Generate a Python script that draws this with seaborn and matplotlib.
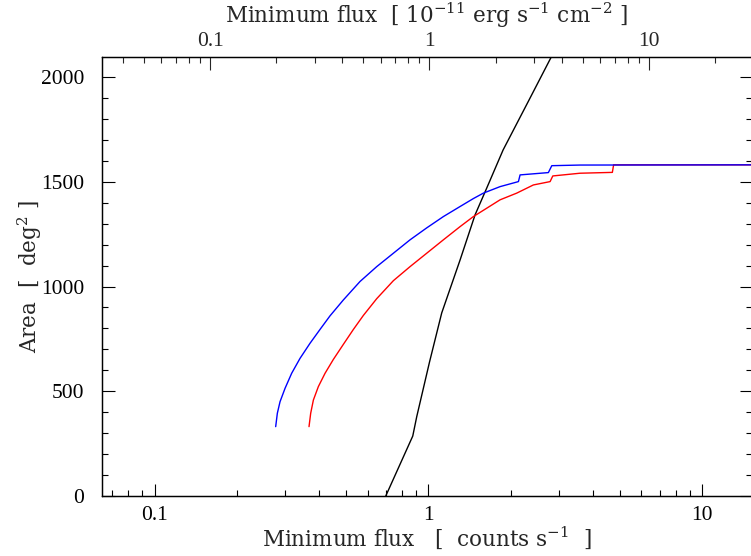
import matplotlib
matplotlib.use("Agg")
import matplotlib.pyplot as plt
import seaborn as sns
import numpy as np
import pandas as pd
from matplotlib.ticker import FixedLocator, FuncFormatter, MultipleLocator, LogLocator, NullFormatter

# ---- data ----
blue_x = [0.2769, 0.2808, 0.2872, 0.2996, 0.3168, 0.3398, 0.3696, 0.4020, 0.4373, 0.4893, 0.5628,
          0.6477, 0.7452, 0.8573, 0.9863, 1.1347, 1.3056, 1.4604, 1.5888, 1.828, 2.133,
          2.163, 2.744, 2.824, 3.58, 15.5]
blue_y = [331, 395, 450, 514, 586, 657, 729, 795, 860, 936, 1024,
          1095, 1159, 1223, 1280, 1334, 1382, 1420, 1446, 1477, 1501,
          1533, 1544, 1577, 1580, 1581]
red_x = [0.3665, 0.3717, 0.3802, 0.3964, 0.4195, 0.4498, 0.4893, 0.5322, 0.5789, 0.6477, 0.7452,
         0.8573, 0.9863, 1.1347, 1.3056, 1.4604, 1.634, 1.828, 2.103, 2.419, 2.784,
         2.848, 3.58, 4.70, 4.75, 15.5]
red_y = [331, 395, 458, 522, 586, 652, 724, 795, 862, 942, 1028,
         1095, 1159, 1223, 1286, 1334, 1374, 1414, 1446, 1485, 1501,
         1528, 1541, 1545, 1581, 1581]
black_x = [0.699, 0.877, 0.907, 1.010, 1.119, 1.306, 1.481, 1.635, 1.875, 2.333, 2.90]
black_y = [0, 286, 379, 640, 874, 1127, 1342, 1471, 1652, 1891, 2130]

bottom_ticks = [0.1, 1, 10]
top_ticks = [0.1, 1, 10]

sns.set_theme(style="ticks")
plt.rcParams["font.family"] = ["Liberation Serif", "DejaVu Serif"]
plt.rcParams["mathtext.default"] = "regular"

fig = plt.figure(figsize=(7.51, 5.56), dpi=100)
ax = fig.add_axes([0.1352, 0.108, 0.866, 0.7895])

df_b = pd.DataFrame({"x": black_x, "y": black_y})
df_r = pd.DataFrame({"x": red_x, "y": red_y})
df_u = pd.DataFrame({"x": blue_x, "y": blue_y})
sns.lineplot(data=df_b, x="x", y="y", ax=ax, color="black", lw=1.0, sort=False, estimator=None)
sns.lineplot(data=df_r, x="x", y="y", ax=ax, color="#ff0000", lw=1.0, sort=False, estimator=None)
sns.lineplot(data=df_u, x="x", y="y", ax=ax, color="#0000ff", lw=1.0, sort=False, estimator=None)

ax.set_xscale("log")
ax.set_xlim(0.0640, 15.2)
ax.set_ylim(0, 2096)

fs = 15.5
lab_font = dict(family=["DejaVu Serif"], size=15.5)
ax.xaxis.set_major_locator(FixedLocator(bottom_ticks))
ax.xaxis.set_major_formatter(FuncFormatter(lambda v, p: "%g" % v))
ax.xaxis.set_minor_locator(LogLocator(base=10, subs=np.arange(2, 10), numticks=20))
ax.xaxis.set_minor_formatter(NullFormatter())
ax.yaxis.set_major_locator(MultipleLocator(500))
ax.yaxis.set_minor_locator(MultipleLocator(100))
ax.tick_params(axis="both", which="major", direction="in", length=9, width=0.8, labelsize=fs,
               color="black", labelcolor="black")
ax.tick_params(axis="both", which="minor", direction="in", length=4.5, width=0.8, color="black")
ax.tick_params(axis="y", which="both", right=True)
ax.tick_params(axis="x", which="major", pad=7)
ax.tick_params(axis="y", which="major", pad=12.5)
for s in ax.spines.values():
    s.set_color("black")
    s.set_linewidth(0.9)

ax.set_xlabel("Minimum flux   [  counts s$^{-1}$  ]", fontdict=lab_font, labelpad=0)
ax.set_ylabel("Area  [  deg$^{2}$ ]", fontdict=lab_font, labelpad=-2)

ax2 = ax.twiny()
ax2.set_xscale("log")
ax2.set_xlim(0.0320, 29.5)
ax2.xaxis.set_major_locator(FixedLocator(top_ticks))
ax2.xaxis.set_major_formatter(FuncFormatter(lambda v, p: "%g" % v))
ax2.xaxis.set_minor_locator(LogLocator(base=10, subs=np.arange(2, 10), numticks=20))
ax2.xaxis.set_minor_formatter(NullFormatter())
ax2.tick_params(axis="x", which="major", direction="in", length=9, width=0.8, labelsize=fs, pad=4)
ax2.tick_params(axis="x", which="minor", direction="in", length=4.5, width=0.8)
ax2.set_xlabel("Minimum flux  [ 10$^{-11}$ erg s$^{-1}$ cm$^{-2}$ ]", fontdict=lab_font, labelpad=7)
for s in ax2.spines.values():
    s.set_color("black")
    s.set_linewidth(0.9)

fig.savefig("out.png", dpi=100)
